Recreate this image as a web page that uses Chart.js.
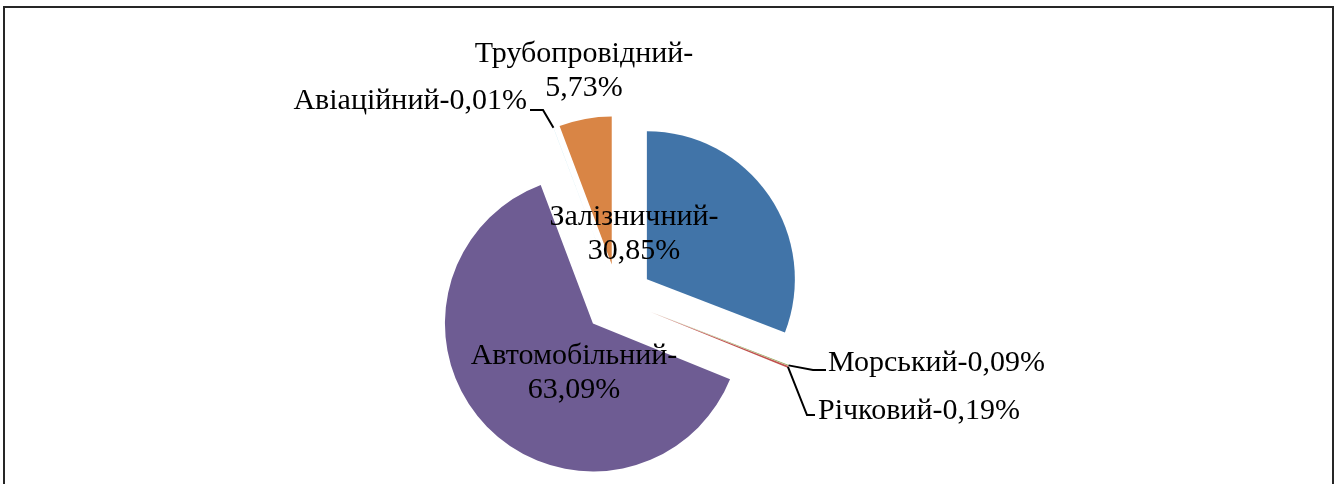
<!DOCTYPE html>
<html>
<head>
<meta charset="utf-8">
<script src="https://cdn.jsdelivr.net/npm/chart.js@4/dist/chart.umd.min.js"></script>
<style>
  html, body { margin: 0; padding: 0; background: #fff; overflow: hidden; }
  #wrap { position: relative; width: 1336px; height: 484px; }
  #frame { position: absolute; left: 3px; top: 6px; width: 1331px; height: 520px;
           border: 2px solid #262626; box-sizing: border-box; pointer-events: none; }
</style>
</head>
<body>
<div id="wrap">
  <canvas id="c"></canvas>
  <div id="frame"></div>
</div>
<script>
// ---- data ----
const categories = ['Залізничний', 'Морський', 'Річковий', 'Автомобільний', 'Авіаційний', 'Трубопровідний'];
const shares = [30.85, 0.09, 0.19, 63.09, 0.01, 5.73];
const colors = ['#4174A8', '#8DA551', '#C0504D', '#6E5C93', '#4BACC6', '#D98545'];

// ---- label placement (relative to pie centre) ----
const labelStyle = [
  { type: 'two', dx: 16, dy: -65 },
  { type: 'right', dx: 210, dy: 64, elbow: [195, 71], end: [208, 71] },
  { type: 'right', dx: 200, dy: 112, elbow: [189, 116], end: [197, 116] },
  { type: 'two', dx: -44, dy: 74 },
  { type: 'left', dx: -91, dy: -198, elbow: [-75, -189], end: [-88, -189] },
  { type: 'two', dx: -34, dy: -228 }
];

const EXPLODE = 35;     // px each slice is pulled out from the centre
const RADIUS = 148;
const FONT = '30px "Liberation Serif", "Times New Roman", serif';
const LINE_H = 34;

function fmt(v) { return v.toFixed(2).replace('.', ',') + '%'; }

// pull every slice out by the same distance along its mid-angle
const baseArcDraw = Chart.ArcElement.prototype.draw;
Chart.ArcElement.prototype.draw = function (ctx) {
  const mid = (this.startAngle + this.endAngle) / 2;
  ctx.save();
  ctx.translate(Math.cos(mid) * EXPLODE, Math.sin(mid) * EXPLODE);
  baseArcDraw.call(this, ctx);
  ctx.restore();
};

const labelPlugin = {
  id: 'pieLabels',
  afterDatasetsDraw(chart) {
    const ctx = chart.ctx;
    const meta = chart.getDatasetMeta(0);
    ctx.save();
    ctx.font = FONT;
    ctx.fillStyle = '#000';
    ctx.strokeStyle = '#000';
    ctx.lineWidth = 2;
    meta.data.forEach((arc, i) => {
      const cx = arc.x, cy = arc.y;
      const st = labelStyle[i];
      const name = categories[i];
      const val = fmt(shares[i]);
      if (st.type === 'two') {
        ctx.textAlign = 'center';
        ctx.textBaseline = 'middle';
        ctx.fillText(name + '-', cx + st.dx, cy + st.dy - LINE_H / 2);
        ctx.fillText(val, cx + st.dx, cy + st.dy + LINE_H / 2);
      } else {
        const mid = (arc.startAngle + arc.endAngle) / 2;
        const tipR = arc.outerRadius + EXPLODE;
        const tx = cx + Math.cos(mid) * tipR, ty = cy + Math.sin(mid) * tipR;
        ctx.beginPath();
        ctx.moveTo(tx, ty);
        ctx.lineTo(cx + st.elbow[0], cy + st.elbow[1]);
        ctx.lineTo(cx + st.end[0], cy + st.end[1]);
        ctx.stroke();
        ctx.textAlign = st.type === 'right' ? 'left' : 'right';
        ctx.textBaseline = 'middle';
        ctx.fillText(name + '-' + val, cx + st.dx, cy + st.dy);
      }
    });
    ctx.restore();
  }
};

new Chart(document.getElementById('c'), {
  type: 'pie',
  data: {
    labels: categories,
    datasets: [{
      data: shares,
      backgroundColor: colors,
      borderWidth: 0,
      offset: 0,
      hoverOffset: 0
    }]
  },
  options: {
    responsive: true,
    maintainAspectRatio: false,
    animation: false,
    radius: RADIUS,
    layout: { padding: { left: 0, right: 100, top: 114, bottom: 0 } },
    plugins: { legend: { display: false }, tooltip: { enabled: false } }
  },
  plugins: [labelPlugin]
});
</script>
</body>
</html>
